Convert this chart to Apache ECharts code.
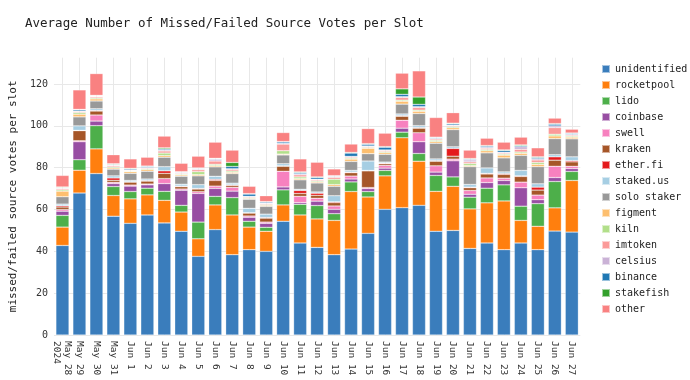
<!DOCTYPE html>
<html><head><meta charset="utf-8">
<script src="https://cdn.jsdelivr.net/npm/echarts@6/dist/echarts.min.js"></script>
<style>html,body{margin:0;padding:0;background:#fff}#c{width:690px;height:380px}</style>
</head><body><div id="c"></div>
<script>
const categories = ["May 28\n2024","May 29","May 30","May 31","Jun 1","Jun 2","Jun 3","Jun 4","Jun 5","Jun 6","Jun 7","Jun 8","Jun 9","Jun 10","Jun 11","Jun 12","Jun 13","Jun 14","Jun 15","Jun 16","Jun 17","Jun 18","Jun 19","Jun 20","Jun 21","Jun 22","Jun 23","Jun 24","Jun 25","Jun 26","Jun 27"];
const yTicks = [0,20,40,60,80,100,120];
const unidentified = [42.8,67.9,77.2,56.8,53.4,57.4,53.6,49.6,37.6,50.4,38.4,40.8,40.0,54.4,44.0,41.9,38.4,41.1,48.6,60.1,60.9,62.0,49.6,50.0,41.4,44.0,40.8,44.0,40.8,49.7,49.2];
const rocketpool = [8.8,10.9,11.8,9.9,11.7,9.6,10.8,9.2,8.4,11.8,19.0,10.8,9.6,7.8,13.4,13.6,16.4,27.5,17.4,16.0,33.4,21.1,19.1,21.1,18.9,19.2,23.3,10.8,11.2,11.1,24.7];
const lido = [5.6,5.0,11.1,4.3,3.5,3.2,4.3,3.2,8.0,4.1,8.3,2.8,1.9,7.2,5.1,6.4,3.2,4.6,2.6,2.6,2.7,3.7,7.6,4.5,5.6,7.0,7.7,6.8,10.8,12.6,4.3];
const coinbase = [2.0,8.6,2.2,1.4,2.6,1.6,3.7,7.2,13.7,3.8,3.1,1.9,1.9,1.4,0.8,2.1,2.1,1.4,1.4,1.1,1.9,5.6,1.6,7.7,1.4,2.7,2.1,8.8,1.9,1.9,1.4];
const swell = [0.8,0.5,2.9,0.6,0.5,0.4,2.4,0.6,0.8,1.1,1.8,0.6,0.6,7.5,3.0,1.4,1.6,1.4,0.5,1.3,3.8,4.3,3.0,0.8,1.8,2.2,1.1,2.7,2.2,5.4,1.1];
const kraken = [1.2,4.8,1.9,1.0,1.4,1.4,2.5,1.1,1.3,2.7,0.9,1.4,1.9,2.4,1.4,1.4,1.6,1.6,8.0,0.8,1.9,2.2,2.2,1.4,1.3,1.9,1.8,2.7,2.4,2.9,2.1];
const etherfi = [0.6,0.2,0.3,1.1,0.2,0.3,1.2,0.3,0.3,0.5,0.3,0.2,0.3,0.2,1.4,1.0,0.4,0.3,0.2,0.3,0.3,0.3,0.3,3.7,0.3,0.3,0.4,0.3,1.4,1.6,0.6];
const stakedus = [0.8,2.1,0.8,1.0,0.6,0.7,2.0,0.9,1.8,1.5,0.8,2.1,1.6,1.0,0.6,0.6,2.9,0.8,4.5,0.5,0.8,0.9,0.8,0.8,1.3,2.6,0.8,2.6,1.6,1.0,1.8];
const soloStaker = [3.5,4.3,3.7,3.2,3.4,3.7,4.5,3.8,4.2,4.5,4.6,4.3,3.7,4.2,4.5,4.3,4.5,4.3,3.5,3.7,4.7,5.8,7.5,8.2,8.5,7.2,6.7,7.2,8.2,7.7,8.6];
const figment = [2.7,1.3,1.0,0.6,0.8,0.8,0.8,0.6,0.6,0.6,0.6,0.4,0.5,0.4,0.6,0.5,0.8,1.1,2.6,0.8,1.4,1.1,0.8,0.9,0.5,1.0,1.3,1.0,1.1,1.3,0.8];
const kiln = [0.6,0.8,0.5,0.5,0.3,0.4,1.2,0.4,1.4,0.6,0.6,0.4,0.4,1.6,0.8,0.5,2.6,0.5,0.4,0.5,0.5,0.5,0.6,0.6,1.0,0.6,0.5,0.6,0.9,0.8,0.5];
const imtoken = [0.6,0.5,0.6,0.6,0.3,0.4,1.0,0.4,0.9,1.6,0.8,0.4,0.4,3.2,1.0,0.5,0.9,0.5,0.4,0.5,1.3,1.3,0.6,0.4,0.8,0.6,0.5,1.3,1.2,3.2,0.5];
const celsius = [0.3,0.2,0.2,0.3,0.2,0.2,0.5,0.3,0.4,0.8,0.3,0.2,0.3,0.3,0.5,0.3,0.3,0.3,0.3,0.3,0.4,0.4,0.3,0.3,0.9,0.4,0.4,1.2,0.6,0.8,0.3];
const binance = [0.2,0.6,0.2,0.3,0.5,0.5,0.5,0.3,0.3,0.3,1.1,1.1,0.5,0.7,0.6,0.8,0.3,1.6,0.8,1.3,1.1,1.1,0.4,0.6,0.4,0.6,0.8,0.5,0.6,0.8,0.5];
const stakefish = [0.3,0.2,0.2,0.3,0.3,0.2,0.5,0.2,0.2,0.2,1.9,0.2,0.2,0.2,0.3,0.3,0.2,0.3,0.3,0.3,2.6,3.5,0.2,0.3,0.3,0.3,0.3,0.4,0.3,0.3,0.2];
const other = [5.5,9.3,10.4,4.3,4.5,4.2,5.6,4.0,5.6,7.7,5.9,3.5,2.8,4.3,6.2,7.0,3.2,4.0,7.2,6.4,7.5,12.5,9.4,5.0,4.0,3.5,3.7,3.7,4.3,2.6,1.8];

const seriesNames = ["unidentified","rocketpool","lido","coinbase","swell","kraken","ether.fi","staked.us","solo staker","figment","kiln","imtoken","celsius","binance","stakefish","other"];
const seriesData = [unidentified,rocketpool,lido,coinbase,swell,kraken,etherfi,stakedus,soloStaker,figment,kiln,imtoken,celsius,binance,stakefish,other];
const colors = ["#3a7dbc","#ff7f0e","#4daf4a","#984ea3","#f781bf","#a65628","#e41a1c","#a6cee3","#999999","#fdbf6f","#b2df8a","#fb9a99","#cab2d6","#1f78b4","#33a02c","#f98181"];

const FONT = "DejaVu Sans Mono";
const chart = echarts.init(document.getElementById('c'), null, {renderer:'canvas'});
chart.setOption({
  animation:false,
  color: colors,
  title:{text:"Average Number of Missed/Failed Source Votes per Slot", left:20, top:12,
    textStyle:{fontFamily:FONT, fontSize:12.5, fontWeight:'normal', color:'#222'}},
  legend:{orient:'vertical', left:596, top:58, itemWidth:8, itemHeight:8, itemGap:4,
    icon:'rect', data:seriesNames,
    textStyle:{fontFamily:FONT, fontSize:10, color:'#222', lineHeight:12}},
  grid:{left:45.4, right:109.7, top:57.7, bottom:45},
  xAxis:{type:'category', data:categories, boundaryGap:true,
    axisLine:{show:false}, axisTick:{show:false},
    splitLine:{show:true, alignWithLabel:true, lineStyle:{color:'#e8e8e8', width:1}},
    axisLabel:{rotate:-90, fontFamily:FONT, fontSize:9.5, color:'#333', margin:6, interval:0, lineHeight:11}},
  yAxis:{type:'value', min:0, max:132.6, interval:20,
    name:"missed/failed source votes per slot", nameLocation:'middle', nameGap:26,
    nameTextStyle:{fontFamily:FONT, fontSize:11, color:'#222'},
    axisLine:{show:false}, axisTick:{show:false},
    axisLabel:{fontFamily:FONT, fontSize:10, color:'#333', showMaxLabel:false, margin:6,
      formatter:v=>yTicks.includes(v)?String(v):''},
    splitLine:{show:true, showMaxLine:false, lineStyle:{color:'#e8e8e8', width:1}}},
  series: seriesNames.map((n,i)=>({name:n, type:'bar', stack:'total', data:seriesData[i],
    barCategoryGap:'23%',
    itemStyle:{color:colors[i], borderColor:'rgba(255,255,255,0.55)', borderWidth:0.5}}))
});
</script></body></html>
